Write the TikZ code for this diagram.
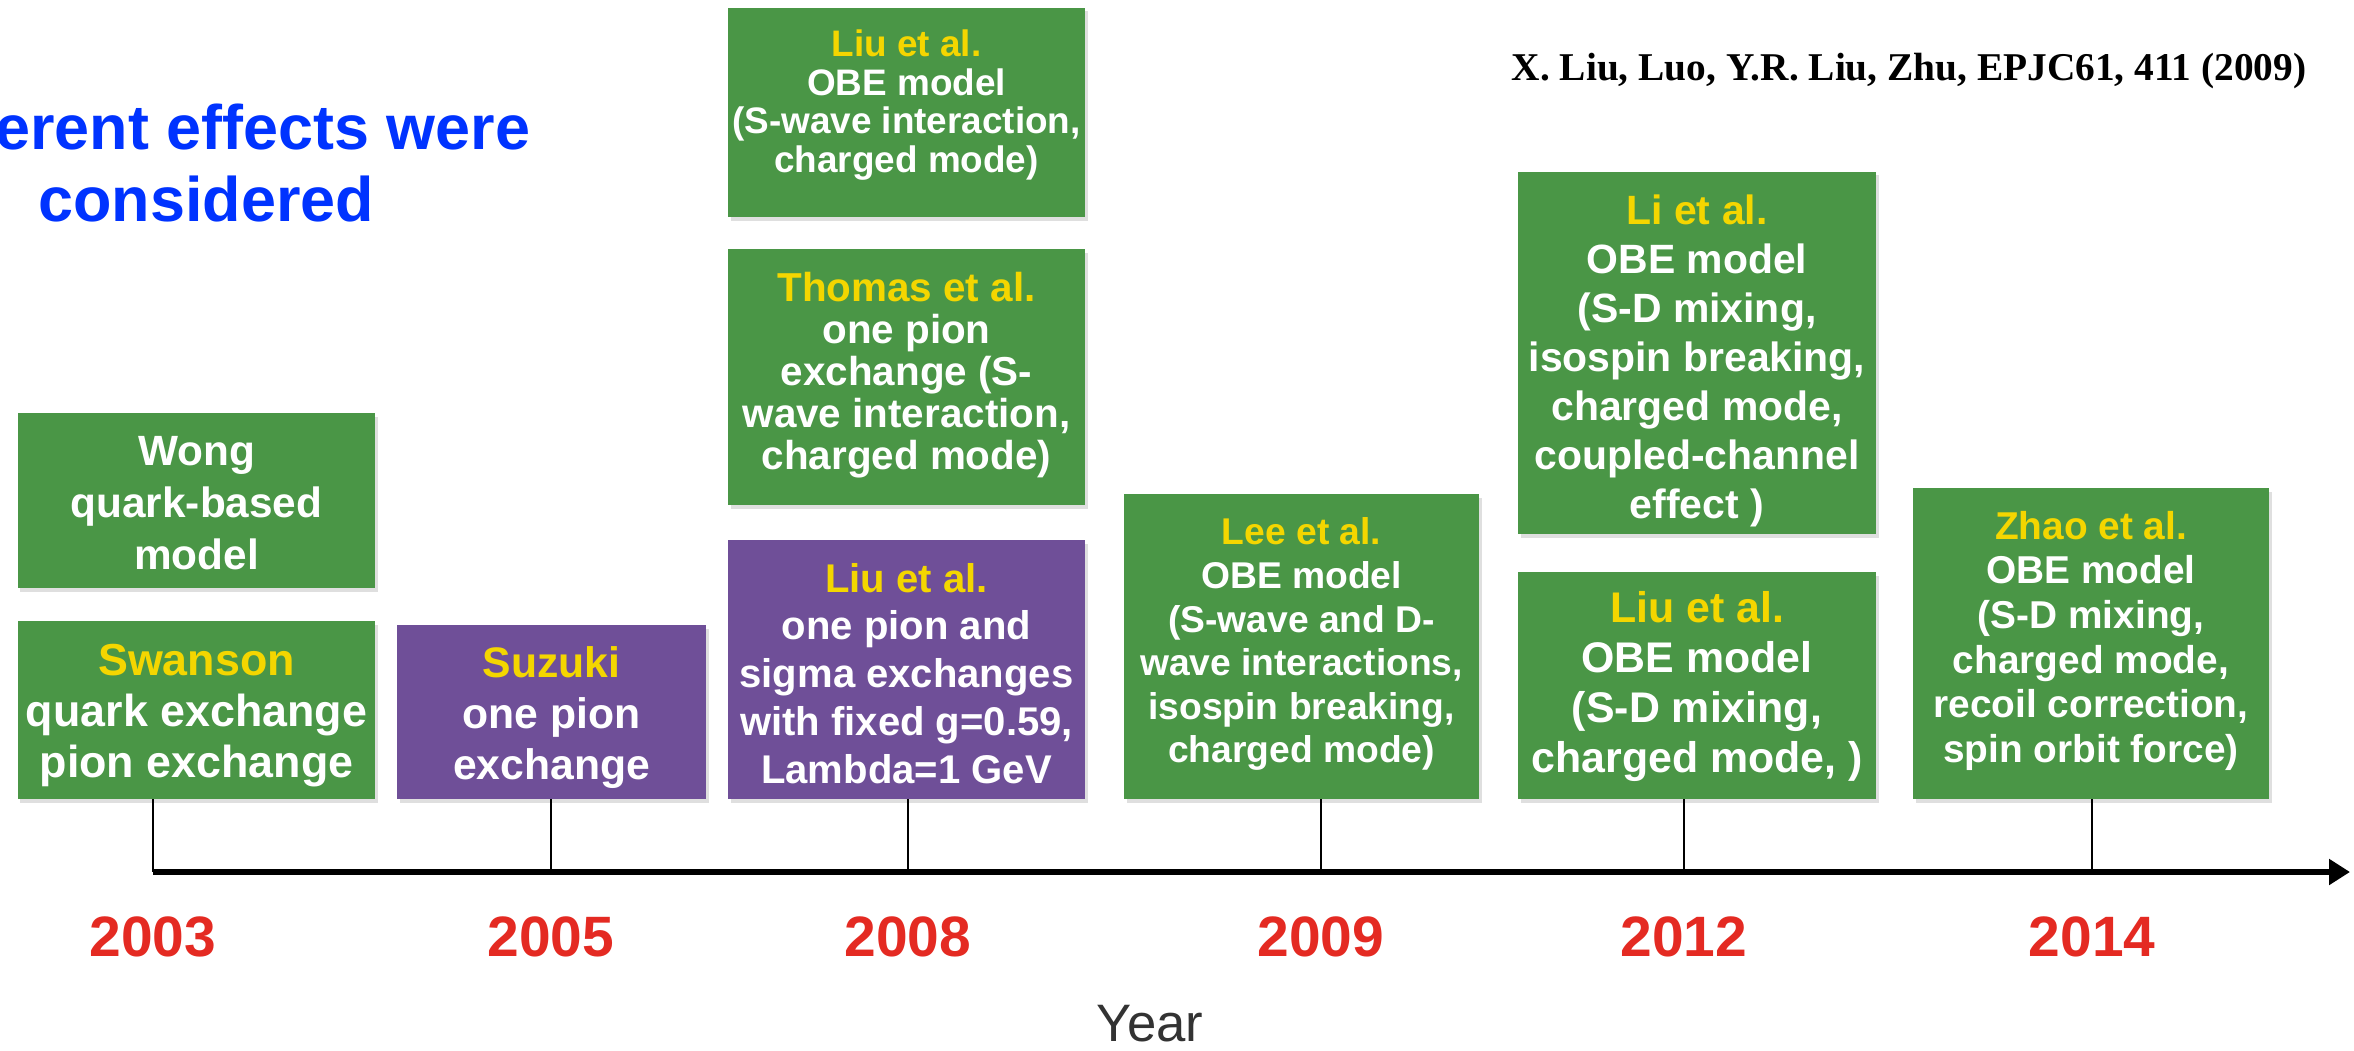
\documentclass[tikz,border=0pt]{standalone}
\usepackage{fontspec}
\setmainfont{Liberation Sans}
\newfontfamily\refserif{Liberation Serif}
\usepackage{tikz}
\usetikzlibrary{calc}
\usetikzlibrary{positioning}
\usetikzlibrary{fit}
\usetikzlibrary{shadows}
\usetikzlibrary{arrows.meta}

\definecolor{boxgreen}{RGB}{74,150,70}
\definecolor{boxpurple}{RGB}{111,79,152}
\definecolor{nameyellow}{RGB}{244,214,0}
\definecolor{yearred}{RGB}{228,42,34}
\definecolor{titleblue}{RGB}{0,51,255}

\newcommand{\boxsize}[2]{\fontsize{#1}{#2}\selectfont}
\newcommand{\who}[1]{\textcolor{nameyellow}{#1}}

\tikzset{
	greenbox/.style={fill=boxgreen, inner sep=0pt,
		drop shadow={shadow xshift=0.05cm, shadow yshift=-0.07cm, opacity=0.25}},
	purplebox/.style={greenbox, fill=boxpurple},
	boxtext/.style={inner sep=0pt, align=center, text=white, anchor=north},
	yearlabel/.style={text=yearred, inner sep=0pt, font=\bfseries\boxsize{32.4pt}{36pt}},
	headline/.style={text=titleblue, inner sep=0pt, font=\bfseries\boxsize{35.8pt}{43pt}},
	tickline/.style={line width=1.6pt},
	axisline/.style={line width=3.2pt, -{Triangle[length=0.42cm, width=0.5cm]}},
}

\begin{document}
\begin{tikzpicture}[x=0.02cm, y=-0.02cm]
		\useasboundingbox (0,0) rectangle (2354,1051);

		\coordinate (wongA) at (18,413);
		\coordinate (wongB) at (375,588);
		\coordinate (swansonA) at (18,621);
		\coordinate (swansonB) at (375,799);
		\coordinate (suzukiA) at (397,625);
		\coordinate (suzukiB) at (706,799);
		\coordinate (liuobeA) at (728,8);
		\coordinate (liuobeB) at (1085,217);
		\coordinate (thomasA) at (728,249);
		\coordinate (thomasB) at (1085,505);
		\coordinate (liupionA) at (728,540);
		\coordinate (liupionB) at (1085,799);
		\coordinate (leeA) at (1124,494);
		\coordinate (leeB) at (1479,799);
		\coordinate (liA) at (1518,172);
		\coordinate (liB) at (1876,534);
		\coordinate (liusdA) at (1518,572);
		\coordinate (liusdB) at (1876,799);
		\coordinate (zhaoA) at (1913,488);
		\coordinate (zhaoB) at (2269,799);

		\coordinate (axisL) at (153,872);
		\coordinate (axisR) at (2350,872);

		\node[headline, anchor=base west] (headA) at (-5,150) {erent effects were};
		\node[headline, anchor=base west] (headB) at (38,221) {considered};
		\node[font=\refserif\bfseries\boxsize{22.4pt}{26pt}, inner sep=0pt] (cite) at (1909,71) {X. Liu, Luo, Y.R. Liu, Zhu, EPJC61, 411 (2009)};

		\node[greenbox, fit=(wongA)(wongB)] (wong) {};
		\node[greenbox, fit=(swansonA)(swansonB)] (swanson) {};
		\node[purplebox, fit=(suzukiA)(suzukiB)] (suzuki) {};
		\node[greenbox, fit=(liuobeA)(liuobeB)] (liuobe) {};
		\node[greenbox, fit=(thomasA)(thomasB)] (thomas) {};
		\node[purplebox, fit=(liupionA)(liupionB)] (liupion) {};
		\node[greenbox, fit=(leeA)(leeB)] (lee) {};
		\node[greenbox, fit=(liA)(liB)] (li) {};
		\node[greenbox, fit=(liusdA)(liusdB)] (liusd) {};
		\node[greenbox, fit=(zhaoA)(zhaoB)] (zhao) {};

		\node[boxtext, font=\bfseries\boxsize{24.1pt}{29.6pt}, below=0.46cm of wong.north] (wongtext) {Wong\\quark-based\\model};
		\node[boxtext, font=\bfseries\boxsize{25.5pt}{29pt}, below=0.46cm of swanson.north] (swansontext) {\who{Swanson}\\quark exchange\\pion exchange};
		\node[boxtext, font=\bfseries\boxsize{24.3pt}{29pt}, below=0.44cm of suzuki.north] (suzukitext) {\who{Suzuki}\\one pion\\exchange};
		\node[boxtext, font=\bfseries\boxsize{21pt}{21.9pt}, below=0.44cm of liuobe.north] (liuobetext) {\who{Liu et al.}\\OBE model\\(S-wave interaction,\\charged mode)};
		\node[boxtext, font=\bfseries\boxsize{23pt}{23.9pt}, below=0.46cm of thomas.north] (thomastext) {\who{Thomas et al.}\\one pion\\exchange (S-\\wave interaction,\\charged mode)};
		\node[boxtext, font=\bfseries\boxsize{22.8pt}{27.3pt}, below=0.46cm of liupion.north] (liupiontext) {\who{Liu et al.}\\one pion and\\sigma exchanges\\with fixed g=0.59,\\Lambda=1 GeV};
		\node[boxtext, font=\bfseries\boxsize{21.2pt}{24.8pt}, below=0.48cm of lee.north] (leetext) {\who{Lee et al.}\\OBE model\\(S-wave and D-\\wave interactions,\\isospin breaking,\\charged mode)};
		\node[boxtext, font=\bfseries\boxsize{23.3pt}{27.9pt}, below=0.46cm of li.north] (litext) {\who{Li et al.}\\OBE model\\(S-D mixing,\\isospin breaking,\\charged mode,\\coupled-channel\\effect )};
		\node[boxtext, font=\bfseries\boxsize{24.4pt}{28.5pt}, below=0.38cm of liusd.north] (liusdtext) {\who{Liu et al.}\\OBE model\\(S-D mixing,\\charged mode, )};
		\node[boxtext, font=\bfseries\boxsize{22.1pt}{25.4pt}, below=0.46cm of zhao.north] (zhaotext) {\who{Zhao et al.}\\OBE model\\(S-D mixing,\\charged mode,\\recoil correction,\\spin orbit force)};

		\node[yearlabel] (y2003) at (153,937) {2003};
		\node[yearlabel] (y2005) at (551,937) {2005};
		\node[yearlabel] (y2008) at (908,937) {2008};
		\node[yearlabel] (y2009) at (1321,937) {2009};
		\node[yearlabel] (y2012) at (1684,937) {2012};
		\node[yearlabel] (y2014) at (2092,937) {2014};
		\node[text=black!80, inner sep=0pt, font=\boxsize{30pt}{34pt}] (yearaxis) at (1150,1024) {Year};

		\draw[tickline] (swanson.south -| y2003) -- (y2003 |- axisL);
		\draw[tickline] (suzuki.south -| y2005) -- (y2005 |- axisL);
		\draw[tickline] (liupion.south -| y2008) -- (y2008 |- axisL);
		\draw[tickline] (lee.south -| y2009) -- (y2009 |- axisL);
		\draw[tickline] (liusd.south -| y2012) -- (y2012 |- axisL);
		\draw[tickline] (zhao.south -| y2014) -- (y2014 |- axisL);
		\draw[axisline] (axisL) -- (axisR);
\end{tikzpicture}
\end{document}
